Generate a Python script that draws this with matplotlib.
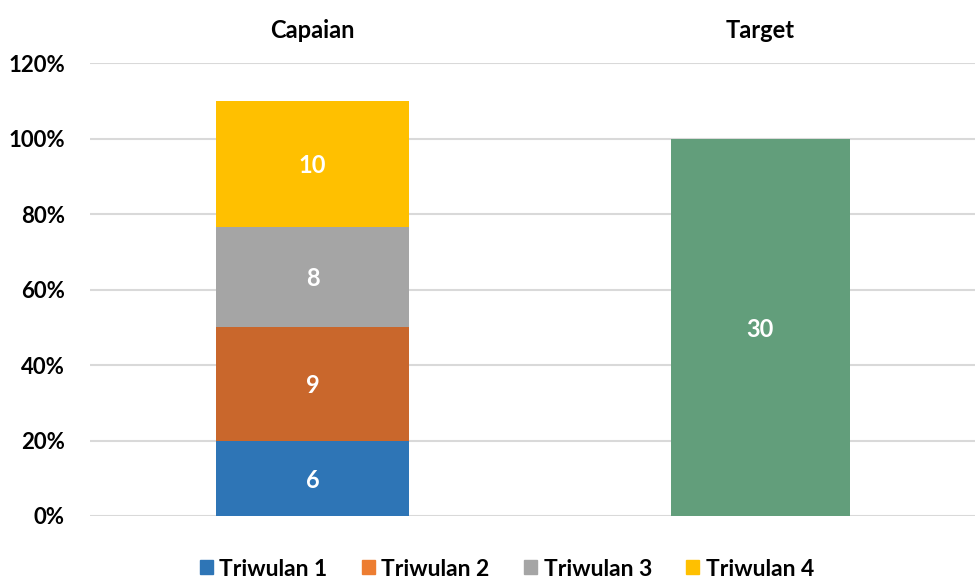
import matplotlib.pyplot as plt
import numpy as np
from matplotlib.patches import Patch

plt.rcParams['font.family'] = ['Lato', 'DejaVu Sans']
plt.rcParams['font.weight'] = 'bold'

# data
categories = ["Capaian", "Target"]
quarters = ["Triwulan 1", "Triwulan 2", "Triwulan 3", "Triwulan 4"]
capaian = [6, 9, 8, 10]
target = [30]
total = 30

bar_colors = ["#2E75B6", "#C9672C", "#A5A5A5", "#FFC000"]
legend_colors = ["#2E75B6", "#ED7D31", "#A5A5A5", "#FFC000"]
target_color = "#629E7B"

fig = plt.figure(figsize=(9.75, 5.78), dpi=100)
ax = fig.add_axes([90 / 975, 62 / 578, 885 / 975, 453 / 578])

x = np.arange(len(categories))
bottom = 0.0
for val, col in zip(capaian, bar_colors):
    h = val / total
    ax.bar(x[0], h, bottom=bottom, width=0.43, color=col, zorder=2)
    ax.text(x[0], bottom + h / 2, str(val), ha='center', va='center_baseline',
            color='white', fontsize=17, fontweight='bold', zorder=3)
    bottom += h

ax.bar(x[1], target[0] / total, width=0.40, color=target_color, zorder=2)
ax.text(x[1], target[0] / total / 2, str(target[0]), ha='center', va='center_baseline',
        color='white', fontsize=17, fontweight='bold', zorder=3)

ax.set_ylim(0, 1.2)
ax.set_xlim(-0.497, 1.48)
ax.set_yticks(np.arange(0, 1.21, 0.2))
ax.set_yticklabels([f"{int(round(v * 100))}%" for v in np.arange(0, 1.21, 0.2)])
ax.yaxis.grid(True, color="#D9D9D9", linewidth=1.5, zorder=0)
ax.set_axisbelow(True)
for s in ax.spines.values():
    s.set_visible(False)
ax.tick_params(axis='y', length=0, labelsize=16, pad=18)
ax.tick_params(axis='x', length=0, labelsize=17, pad=15,
               top=True, labeltop=True, bottom=False, labelbottom=False)
ax.set_xticks(x)
ax.set_xticklabels(categories)

handles = [Patch(color=c, label=q) for c, q in zip(legend_colors, quarters)]
fig.legend(handles=handles, loc='center', bbox_to_anchor=(507 / 975, 9 / 578),
           ncol=4, frameon=False, fontsize=16.5, handlelength=0.55, handleheight=0.55,
           handletextpad=0.3, columnspacing=1.5)

fig.savefig("out.png", dpi=100)
